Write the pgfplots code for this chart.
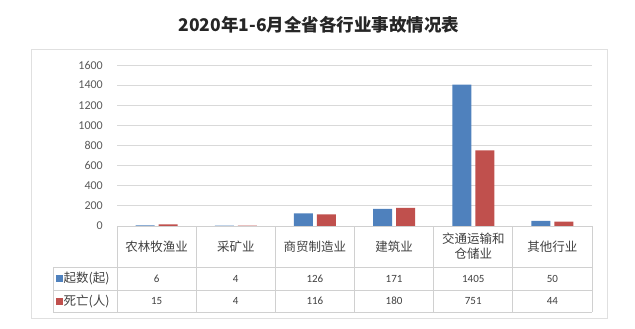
\documentclass[border=0pt]{standalone}
\usepackage{pgfplots}
\usepackage{pgfplotstable}
\pgfplotsset{compat=1.18}
\usepackage{fontspec}
\setmainfont{Carlito}
\newfontfamily\cjk{Noto Sans CJK SC}
\definecolor{blueC}{HTML}{4F81BD}
\definecolor{redC}{HTML}{C0504D}
\definecolor{gridC}{HTML}{D9D9D9}
\definecolor{tabC}{HTML}{D0D0D0}
\definecolor{frameC}{HTML}{E0E0E0}
\definecolor{tickC}{HTML}{595959}
\definecolor{txtC}{HTML}{404040}
\definecolor{titleC}{HTML}{262626}
\pgfplotstableread{
idx qi sw
0 6 15
1 4 4
2 126 116
3 171 180
4 1405 751
5 50 44
}\data
\begin{document}
\begin{tikzpicture}[x=1bp,y=1bp]
\path (0,0) rectangle (635,328);
\draw[frameC, line width=1bp] (31,10) rectangle (607,279);
\node[text=titleC, font=\cjk\bfseries\fontsize{17.5bp}{20bp}\selectfont] at (319,303) {2020年1-6月全省各行业事故情况表};
\begin{axis}[
  at={(117bp,102bp)}, anchor=south west,
  scale only axis, width=475bp, height=161bp,
  xmin=-0.5, xmax=5.5, ymin=0, ymax=1600,
  ybar=4bp, bar width=19bp,
  axis line style={draw=none},
  ymajorgrids, grid style={gridC, line width=0.8bp},
  ytick={0,200,...,1600}, xtick=\empty,
  major tick length=0pt,
  /pgf/number format/1000 sep={},
  /pgf/number format/assume math mode=true,
  yticklabel style={text=tickC, font=\fontsize{12bp}{14bp}\selectfont, inner sep=0pt, anchor=east, xshift=-14bp},
  clip=false,
]
\addplot[fill=blueC, draw=none] table[x=idx, y=qi]{\data};
\addplot[fill=redC, draw=none] table[x=idx, y=sw]{\data};
\end{axis}
% table grid
\begin{scope}[tabC, line width=0.8bp]
\draw (117,102) -- (592,102);
\draw (53,61) -- (592,61);
\draw (53,38) -- (592,38);
\draw (53,16) -- (592,16);
\draw (53,61) -- (53,16);
\foreach \k in {0,...,6} {
  \draw ({117+\k*79.1667},102) -- ({117+\k*79.1667},16);
}
\end{scope}
% category names
\foreach \i/\n in {0/农林牧渔业,1/采矿业,2/商贸制造业,3/建筑业,4/{交通运输和\\仓储业},5/其他行业} {
  \node[text=txtC, align=center, font=\cjk\fontsize{12.5bp}{15bp}\selectfont, inner sep=0pt] at ({117+(\i+0.5)*79.1667},81.5) {\n};
}
% values
\foreach \i in {0,...,5} {
  \pgfplotstablegetelem{\i}{qi}\of\data
  \node[text=txtC, font=\fontsize{11bp}{13bp}\selectfont] at ({117+(\i+0.5)*79.1667},49.5) {\pgfplotsretval};
  \pgfplotstablegetelem{\i}{sw}\of\data
  \node[text=txtC, font=\fontsize{11bp}{13bp}\selectfont] at ({117+(\i+0.5)*79.1667},27) {\pgfplotsretval};
}
% row legends
\fill[blueC] (56,46) rectangle (63,53);
\fill[redC] (56,23.5) rectangle (63,30.5);
\node[text=txtC, anchor=west, inner sep=0pt, font=\cjk\fontsize{12.5bp}{15bp}\selectfont] at (63.5,49.5) {起数(起)};
\node[text=txtC, anchor=west, inner sep=0pt, font=\cjk\fontsize{12.5bp}{15bp}\selectfont] at (63.5,27) {死亡(人)};
\end{tikzpicture}
\end{document}
